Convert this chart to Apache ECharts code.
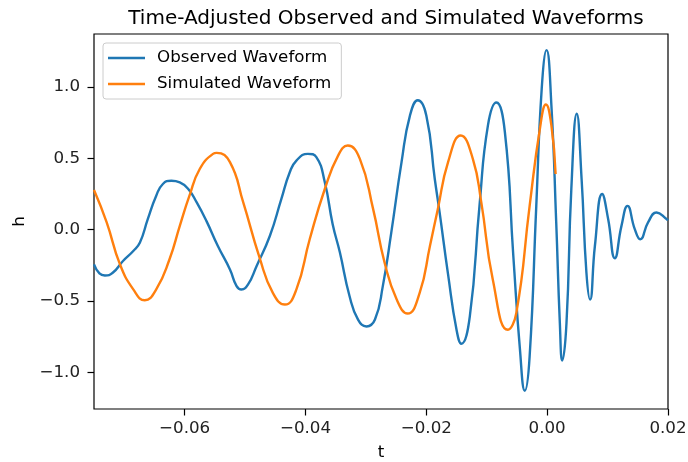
<!DOCTYPE html>
<html>
<head>
<meta charset="utf-8">
<script src="https://cdn.jsdelivr.net/npm/echarts@6/dist/echarts.min.js"></script>
<style>
  html, body { margin: 0; padding: 0; background: #fff; }
  #chart { width: 688px; height: 462px; }
</style>
</head>
<body>
<div id="chart"></div>
<script>
// observed waveform
var obsTime = [-0.0750, -0.0741, -0.0732, -0.0719, -0.0702, -0.0685, -0.0674, -0.0661, -0.0647, -0.0636,
  -0.0622, -0.0608, -0.0594, -0.0580, -0.0564, -0.0545, -0.0525, -0.0514, -0.0506, -0.0495,
  -0.0481, -0.0459, -0.0440, -0.0426, -0.0415, -0.0396, -0.0382, -0.0368, -0.0355, -0.0343,
  -0.0327, -0.0313, -0.0299, -0.0285, -0.0272, -0.0258, -0.0241, -0.0227, -0.0214, -0.0200,
  -0.0186, -0.0178, -0.0164, -0.0150, -0.0142, -0.0128, -0.0112, -0.0098, -0.0084, -0.0070,
  -0.0056, -0.0045, -0.0037, -0.0029, -0.0018, -0.0009, -0.0001, 0.0007, 0.0015, 0.0021,
  0.0025, 0.0032, 0.0040, 0.0049, 0.0057, 0.0065, 0.0071, 0.0079, 0.0091, 0.0101,
  0.0112, 0.0123, 0.0133, 0.0145, 0.0154, 0.0167, 0.0181, 0.0198, 0.0200];
var obsStrain = [-0.243, -0.306, -0.320, -0.301, -0.219, -0.149, -0.090, 0.074, 0.238, 0.320,
  0.343, 0.332, 0.285, 0.191, 0.062, -0.114, -0.278, -0.395, -0.418, -0.383,
  -0.255, -0.044, 0.214, 0.402, 0.484, 0.531, 0.508, 0.332, 0.039, -0.160,
  -0.466, -0.629, -0.677, -0.629, -0.395, -0.020, 0.473, 0.800, 0.906, 0.800,
  0.355, 0.121, -0.313, -0.700, -0.798, -0.606, 0.167, 0.730, 0.890, 0.684,
  -0.184, -0.840, -1.127, -0.887, 0.167, 0.988, 1.257, 0.871, 0.051, -0.653,
  -0.916, -0.653, 0.285, 0.812, 0.355, -0.301, -0.489, -0.114, 0.250, 0.074,
  -0.200, 0.027, 0.167, 0.004, -0.067, 0.051, 0.121, 0.074, 0.065];

// simulated waveform
var simTime = [-0.0750, -0.0729, -0.0707, -0.0685, -0.0666, -0.0647, -0.0625, -0.0608, -0.0592, -0.0575,
  -0.0553, -0.0547, -0.0525, -0.0503, -0.0476, -0.0454, -0.0434, -0.0415, -0.0393, -0.0368,
  -0.0346, -0.0330, -0.0310, -0.0288, -0.0269, -0.0249, -0.0231, -0.0211, -0.0194, -0.0181,
  -0.0164, -0.0143, -0.0123, -0.0109, -0.0090, -0.0065, -0.0051, -0.0029, -0.0012, -0.0002,
  0.0007, 0.0014];
var simStrain = [0.278, 0.051, -0.243, -0.418, -0.494, -0.418, -0.207, 0.027, 0.238, 0.425,
  0.531, 0.538, 0.473, 0.191, -0.195, -0.442, -0.524, -0.418, -0.067, 0.285,
  0.519, 0.589, 0.496, 0.144, -0.231, -0.489, -0.587, -0.442, -0.114, 0.144,
  0.473, 0.660, 0.496, 0.191, -0.348, -0.700, -0.582, 0.167, 0.707, 0.876,
  0.730, 0.390];

var xTicks = [-0.06, -0.04, -0.02, 0.00, 0.02];
var yTicks = [-1.0, -0.5, 0.0, 0.5, 1.0];

function pairs(xs, ys) {
  return xs.map(function (x, i) { return [x, ys[i]]; });
}
function minusSign(s) { return s.replace('-', '\u2212'); }

var font = 'DejaVu Sans';
var chart = echarts.init(document.getElementById('chart'), null, { renderer: 'canvas' });

var option = {
  animation: false,
  backgroundColor: '#fff',
  title: {
    text: 'Time-Adjusted Observed and Simulated Waveforms',
    left: 381,
    top: 4,
    textAlign: 'center',
    textStyle: { fontFamily: font, fontSize: 20, fontWeight: 'normal', color: '#000' }
  },
  legend: {
    orient: 'vertical',
    left: 103,
    top: 43,
    padding: [5, 10, 5, 5],
    itemGap: 6,
    itemWidth: 37,
    itemHeight: 2.5,
    icon: 'rect',
    borderColor: '#cccccc',
    borderWidth: 1,
    borderRadius: 3,
    backgroundColor: 'rgba(255,255,255,0.8)',
    textStyle: { fontFamily: font, fontSize: 16.7, lineHeight: 20, color: '#000', padding: [0, 0, 0, 7] },
    data: ['Observed Waveform', 'Simulated Waveform']
  },
  grid: {
    left: 94, right: 20, top: 34, bottom: 53,
    outerBoundsMode: 'none',
    containLabel: false,
    show: true, borderColor: '#000', borderWidth: 1.2
  },
  xAxis: {
    type: 'value',
    min: -0.075,
    max: 0.02,
    name: 't',
    nameLocation: 'middle',
    nameGap: 35,
    nameTextStyle: { fontFamily: font, fontSize: 16.7, color: '#000' },
    splitLine: { show: false },
    axisLine: { show: false, onZero: false },
    axisTick: { show: true, customValues: xTicks, length: 6.5, lineStyle: { color: '#000', width: 1.2 } },
    axisLabel: {
      customValues: xTicks, margin: 11,
      fontFamily: font, fontSize: 16.7, color: '#222',
      formatter: function (v) { return minusSign(v.toFixed(2)); }
    }
  },
  yAxis: {
    type: 'value',
    min: -1.255,
    max: 1.37,
    name: 'h',
    nameLocation: 'middle',
    nameGap: 62,
    nameTextStyle: { fontFamily: font, fontSize: 16.7, color: '#000' },
    splitLine: { show: false },
    axisLine: { show: false, onZero: false },
    axisTick: { show: true, customValues: yTicks, length: 6.5, lineStyle: { color: '#000', width: 1.2 } },
    axisLabel: {
      customValues: yTicks, margin: 14,
      fontFamily: font, fontSize: 16.7, color: '#222',
      formatter: function (v) { return minusSign(v.toFixed(1)); }
    }
  },
  series: [
    {
      name: 'Observed Waveform',
      type: 'line',
      data: pairs(obsTime, obsStrain),
      smooth: 0.5,
      showSymbol: false,
      symbol: 'none',
      color: '#1f77b4',
      lineStyle: { color: '#1f77b4', width: 2.4 }
    },
    {
      name: 'Simulated Waveform',
      type: 'line',
      data: pairs(simTime, simStrain),
      smooth: 0.5,
      showSymbol: false,
      symbol: 'none',
      color: '#ff7f0e',
      lineStyle: { color: '#ff7f0e', width: 2.4 }
    }
  ]
};

chart.setOption(option);
</script>
</body>
</html>
